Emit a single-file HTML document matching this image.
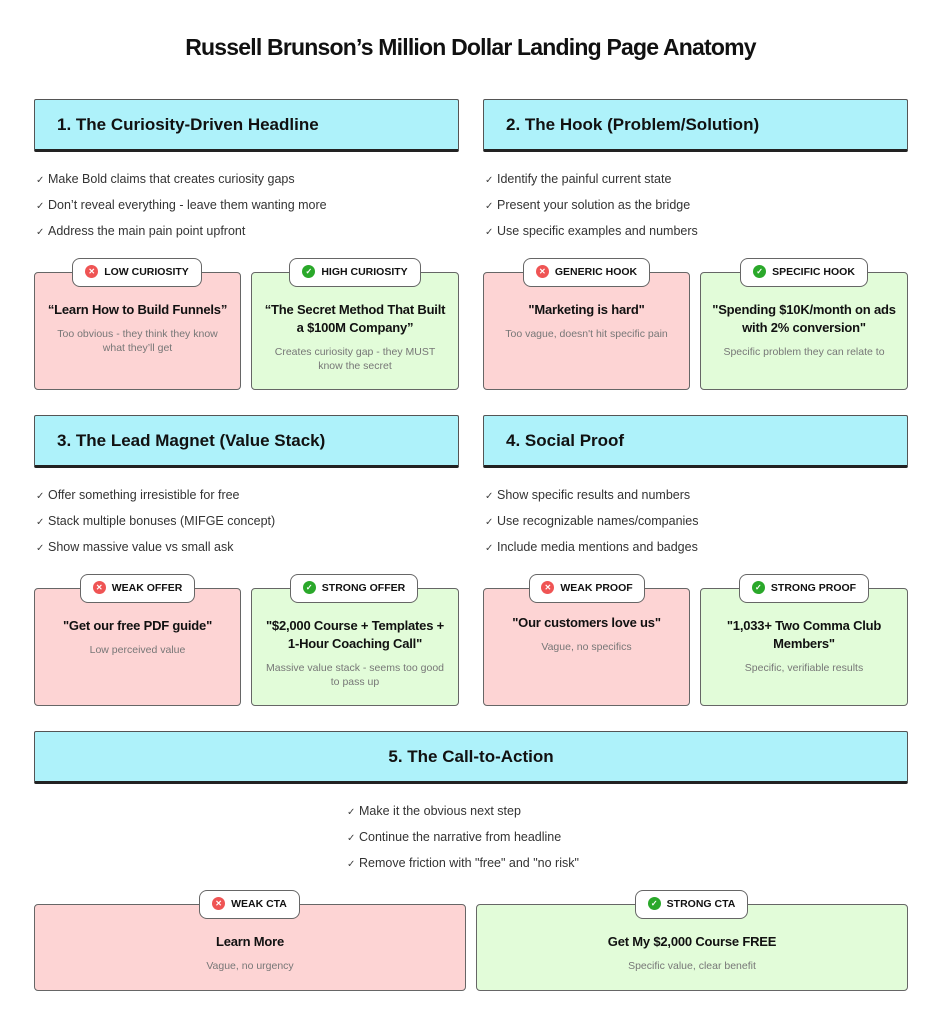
<!DOCTYPE html>
<html><head><meta charset="utf-8"><style>
*{box-sizing:border-box;margin:0;padding:0}
body{width:941px;height:1024px;background:#fff;position:relative;font-family:"Liberation Sans",sans-serif;color:#111;overflow:hidden}
.t{position:absolute;left:0;width:941px;top:34px;text-align:center;font-weight:bold;font-size:23px;letter-spacing:-0.8px}
.h{position:absolute;height:53px;background:#aef2fa;border:1px solid #555;border-bottom:3px solid #222;border-radius:2px;font-weight:bold;font-size:17px;line-height:49px;padding-left:22px}
.b{position:absolute;font-size:12.5px;color:#333;line-height:25px}
.b div:before{content:"✓";font-size:10px;color:#444;display:inline-block;width:12px}
.c{position:absolute;border:1.5px solid #666;border-radius:4px;text-align:center;padding:0 8px}
.r{background:#fdd4d4}.g{background:#e2fcd9}
.q{font-size:13px;font-weight:bold;line-height:18px;color:#111;letter-spacing:-0.2px}
.s{font-size:10.5px;color:#777;line-height:14px;margin-top:8px;padding:0 4px}
.bd{position:absolute;height:29px;background:#fff;border:1.5px solid #666;border-radius:8px;font-size:10.5px;font-weight:bold;line-height:26px;text-align:center;white-space:nowrap}
.bd i{display:inline-block;width:13px;height:13px;border-radius:50%;vertical-align:middle;margin-right:6px;margin-top:-2px;color:#fff;font-style:normal;font-size:8px;line-height:13px;text-align:center}
.x{background:#ef5454}.k{background:#2aa82a}
</style></head><body>
<div class="t">Russell Brunson’s Million Dollar Landing Page Anatomy</div>

<div class="h" style="left:34px;top:99px;width:425px">1. The Curiosity-Driven Headline</div>
<div class="h" style="left:483px;top:99px;width:425px">2. The Hook (Problem/Solution)</div>
<div class="b" style="left:36px;top:167px"><div>Make Bold claims that creates curiosity gaps</div><div>Don’t reveal everything - leave them wanting more</div><div>Address the main pain point upfront</div></div>
<div class="b" style="left:485px;top:167px"><div>Identify the painful current state</div><div>Present your solution as the bridge</div><div>Use specific examples and numbers</div></div>

<div class="c r" style="left:34px;top:272px;width:207px;height:118px;padding-top:28px"><div class="q">“Learn How to Build Funnels”</div><div class="s">Too obvious - they think they know what they’ll get</div></div>
<div class="bd" style="left:72px;top:258px;width:130px"><i class="x">✕</i>LOW CURIOSITY</div>
<div class="c g" style="left:251px;top:272px;width:208px;height:118px;padding-top:28px"><div class="q">“The Secret Method That Built a $100M Company”</div><div class="s">Creates curiosity gap - they MUST know the secret</div></div>
<div class="bd" style="left:289px;top:258px;width:132px"><i class="k">✓</i>HIGH CURIOSITY</div>

<div class="c r" style="left:483px;top:272px;width:207px;height:118px;padding-top:28px"><div class="q">"Marketing is hard"</div><div class="s">Too vague, doesn't hit specific pain</div></div>
<div class="bd" style="left:523px;top:258px;width:127px"><i class="x">✕</i>GENERIC HOOK</div>
<div class="c g" style="left:700px;top:272px;width:208px;height:118px;padding-top:28px"><div class="q">"Spending $10K/month on ads with 2% conversion"</div><div class="s">Specific problem they can relate to</div></div>
<div class="bd" style="left:740px;top:258px;width:128px"><i class="k">✓</i>SPECIFIC HOOK</div>

<div class="h" style="left:34px;top:415px;width:425px">3. The Lead Magnet (Value Stack)</div>
<div class="h" style="left:483px;top:415px;width:425px">4. Social Proof</div>
<div class="b" style="left:36px;top:483px"><div>Offer something irresistible for free</div><div>Stack multiple bonuses (MIFGE concept)</div><div>Show massive value vs small ask</div></div>
<div class="b" style="left:485px;top:483px"><div>Show specific results and numbers</div><div>Use recognizable names/companies</div><div>Include media mentions and badges</div></div>

<div class="c r" style="left:34px;top:588px;width:207px;height:118px;padding-top:28px"><div class="q">"Get our free PDF guide"</div><div class="s">Low perceived value</div></div>
<div class="bd" style="left:80px;top:574px;width:115px"><i class="x">✕</i>WEAK OFFER</div>
<div class="c g" style="left:251px;top:588px;width:208px;height:118px;padding-top:28px"><div class="q">"$2,000 Course + Templates + 1-Hour Coaching Call"</div><div class="s">Massive value stack - seems too good to pass up</div></div>
<div class="bd" style="left:290px;top:574px;width:128px"><i class="k">✓</i>STRONG OFFER</div>

<div class="c r" style="left:483px;top:588px;width:207px;height:118px;padding-top:25px"><div class="q">"Our customers love us"</div><div class="s">Vague, no specifics</div></div>
<div class="bd" style="left:529px;top:574px;width:116px"><i class="x">✕</i>WEAK PROOF</div>
<div class="c g" style="left:700px;top:588px;width:208px;height:118px;padding-top:28px"><div class="q">"1,033+ Two Comma Club Members"</div><div class="s">Specific, verifiable results</div></div>
<div class="bd" style="left:739px;top:574px;width:130px"><i class="k">✓</i>STRONG PROOF</div>

<div class="h" style="left:34px;top:731px;width:874px;text-align:center;padding-left:0">5. The Call-to-Action</div>
<div class="b" style="left:347px;top:799px"><div>Make it the obvious next step</div><div>Continue the narrative from headline</div><div>Remove friction with "free" and "no risk"</div></div>

<div class="c r" style="left:34px;top:904px;width:432px;height:87px;padding-top:28px"><div class="q">Learn More</div><div class="s">Vague, no urgency</div></div>
<div class="bd" style="left:199px;top:890px;width:101px"><i class="x">✕</i>WEAK CTA</div>
<div class="c g" style="left:476px;top:904px;width:432px;height:87px;padding-top:28px"><div class="q">Get My $2,000 Course FREE</div><div class="s">Specific value, clear benefit</div></div>
<div class="bd" style="left:635px;top:890px;width:113px"><i class="k">✓</i>STRONG CTA</div>
</body></html>
